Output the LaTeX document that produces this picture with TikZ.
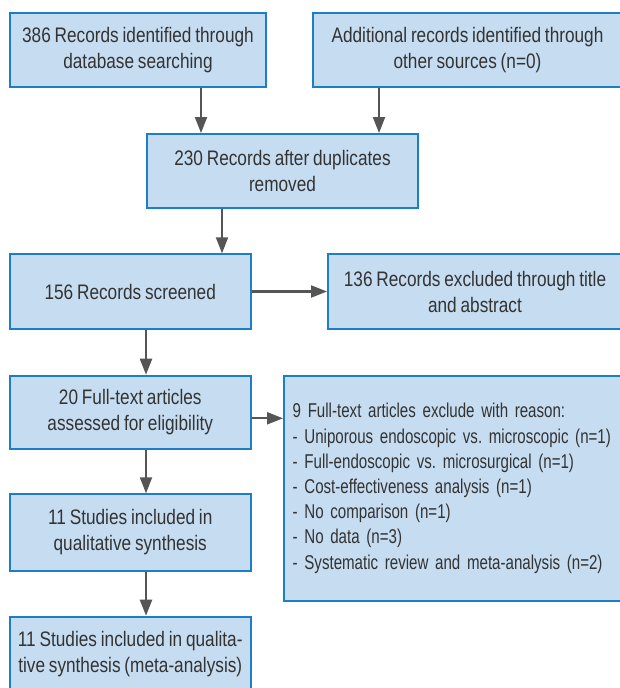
\documentclass[tikz,border=0pt]{standalone}
\usepackage{fontspec}
\setmainfont{Liberation Sans}[FakeStretch=0.82, WordSpace={0.8,0,0}]
\newfontfamily\listfont{Liberation Sans}[FakeStretch=0.755, WordSpace={0.8,0,0}]
\usetikzlibrary{arrows.meta,calc}
\definecolor{boxfill}{RGB}{198,220,240}
\definecolor{boxline}{RGB}{27,127,200}
\definecolor{arrowgray}{RGB}{85,85,85}
\definecolor{textgray}{RGB}{51,51,51}
\begin{document}
\frenchspacing
\begin{tikzpicture}[x=1pt,y=-1pt,
  box/.style={draw=boxline, line width=2pt, fill=boxfill, text=textgray, inner sep=0pt, align=center, font=\fontsize{21}{26}\selectfont},
  listbox/.style={draw=boxline, line width=2pt, fill=boxfill, text=textgray, inner xsep=8.7pt, inner ysep=0pt, align=left, font=\listfont\fontsize{20}{25.2}\selectfont},
  arr/.style={draw=arrowgray, line width=2.2pt, -{Triangle[length=16pt,width=12pt]}}]
\useasboundingbox (0,0) rectangle (620,688);
\clip (0,0) rectangle (620,688);

\node[box, minimum width=256pt, minimum height=74.6pt] (b1) at (138,50) {386 Records identified through\\database searching};
\node[box, minimum width=309pt, minimum height=74.6pt] (b2) at (467.5,50) {Additional records identified through\\other sources (n=0)};
\node[box, minimum width=271pt, minimum height=74.3pt] (b3) at (282.5,171.2) {230 Records after duplicates\\removed};
\node[box, minimum width=241.5pt, minimum height=74.4pt] (b4) at (130.25,291.5) {156 Records screened};
\node[box, minimum width=294pt, minimum height=74.4pt] (b5) at (475,291.5) {136 Records excluded through title\\and abstract};
\node[box, minimum width=241.5pt, minimum height=73.6pt] (b6) at (130.25,412.5) {20 Full-text articles\\assessed for eligibility};
\node[listbox, text width=360pt, minimum height=225.3pt, anchor=west] (b7) at (283,488.35) {9 Full-text articles exclude with reason:\\- Uniporous endoscopic vs. microscopic (n=1)\\- Full-endoscopic vs. microsurgical (n=1)\\- Cost-effectiveness analysis (n=1)\\- No comparison (n=1)\\- No data (n=3)\\- Systematic review and meta-analysis (n=2)};
\node[box, minimum width=241.5pt, minimum height=76.4pt] (b8) at (130.25,532.5) {11 Studies included in\\qualitative synthesis};
\node[box, minimum width=241.5pt, minimum height=75.3pt] (b9) at (130.25,654.35) {11 Studies included in qualita-\\tive synthesis (meta-analysis)};

\coordinate (xa) at (201,0);
\coordinate (xb) at (379,0);
\coordinate (xc) at (222,0);
\coordinate (xd) at (146,0);
\coordinate (ya) at (0,418.3);

\draw[arr] (b1.south -| xa) -- (b3.north -| xa);
\draw[arr] (b2.south -| xb) -- (b3.north -| xb);
\draw[arr] (b3.south -| xc) -- (b4.north -| xc);
\draw[arr] (b4.east) -- (b5.west |- b4.east);
\draw[arr] (b4.south -| xd) -- (b6.north -| xd);
\draw[arr] (b6.east |- ya) -- (b7.west |- ya);
\draw[arr] (b6.south -| xd) -- (b8.north -| xd);
\draw[arr] (b8.south -| xd) -- (b9.north -| xd);
\end{tikzpicture}
\end{document}
